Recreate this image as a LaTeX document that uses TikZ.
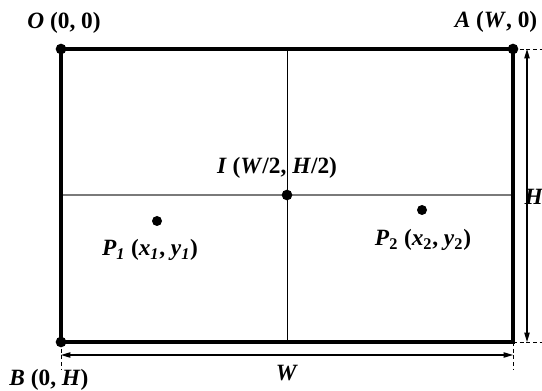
\documentclass[tikz,border=0pt]{standalone}
\usepackage{fontspec}
\setmainfont{Liberation Serif}
\usetikzlibrary{arrows.meta}
\newcommand{\bfit}[1]{\textbf{\textit{#1}}}
\definecolor{midgray}{HTML}{7A7A7A}
\tikzset{
  dot/.style={circle, fill=black, inner sep=0pt, minimum size=8pt},
  pdot/.style={dot, minimum size=7.5pt},
  lbl/.style={inner sep=0pt, font=\fontsize{17.5}{19}\selectfont\bfseries},
  frame/.style={line width=2.3pt, line join=miter},
  dimline/.style={line width=0.8pt, {Triangle[length=7pt,width=4pt]}-{Triangle[length=7pt,width=4pt]}},
  extline/.style={line width=0.7pt, dash pattern=on 3pt off 2pt},
}

\begin{document}
\begin{tikzpicture}[x=0.75pt, y=-0.75pt]
    \useasboundingbox (0,0) rectangle (542,391);
    % corners and centre
    \node[dot] (O) at (61,49) {};
    \node[dot] (A) at (513,49) {};
    \node[dot] (B) at (61,342) {};
    \coordinate (C) at (513,342);
    \coordinate (Tm) at (287,49);
    \coordinate (Bm) at (287,342);
    \coordinate (Lm) at (61,195);
    \coordinate (Rm) at (513,195);
    % dimension ends
    \coordinate (Atail) at (542,49);
    \coordinate (Ctail) at (542,342);
    \coordinate (Btail) at (61,370);
    \coordinate (Cdown) at (513,370);
    \coordinate (Htop) at (527,49);
    \coordinate (Hbot) at (527,342);
    \coordinate (Wleft) at (61,355);
    \coordinate (Wright) at (513,355);

    \draw[line width=0.6pt] (Tm) -- (Bm);
    \draw[line width=1.2pt, midgray] (Lm) -- (Rm);
    \draw[frame] (O.center) -- (A.center) -- (C) -- (B.center) -- cycle;
    \node[dot] (I) at (287,195) {};
    \node[pdot] (P1) at (157,221) {};
    \node[pdot] (P2) at (422,210) {};

    \draw[extline] (A.center) -- (Atail);
    \draw[extline] (C) -- (Ctail);
    \draw[extline] (B.center) -- (Btail);
    \draw[extline] (C) -- (Cdown);
    \draw[dimline] (Htop) -- (Hbot);
    \draw[dimline] (Wleft) -- (Wright);

    \node[lbl] (Olbl) at (64,23) {\bfit{O} (0, 0)};
    \node[lbl] (Albl) at (496,22) {\bfit{A} (\bfit{W}, 0)};
    \node[lbl] (Blbl) at (49,380) {\bfit{B} (0, \bfit{H})};
    \node[lbl] (Ilbl) at (277,168) {\bfit{I} (\bfit{W}/2, \bfit{H}/2)};
    \node[lbl] (P1lbl) at (150,250) {\bfit{P\textsubscript{1}} (\bfit{x\textsubscript{1}}, \bfit{y\textsubscript{1}})};
    \node[lbl] (P2lbl) at (423,240) {\bfit{P}\textsubscript{2} (\bfit{x}\textsubscript{2}, \bfit{y}\textsubscript{2})};
    \node[lbl] (Hlbl) at (534,197) {\bfit{H}};
    \node[lbl] (Wlbl) at (287,373) {\bfit{W}};
  \end{tikzpicture}
\end{document}
